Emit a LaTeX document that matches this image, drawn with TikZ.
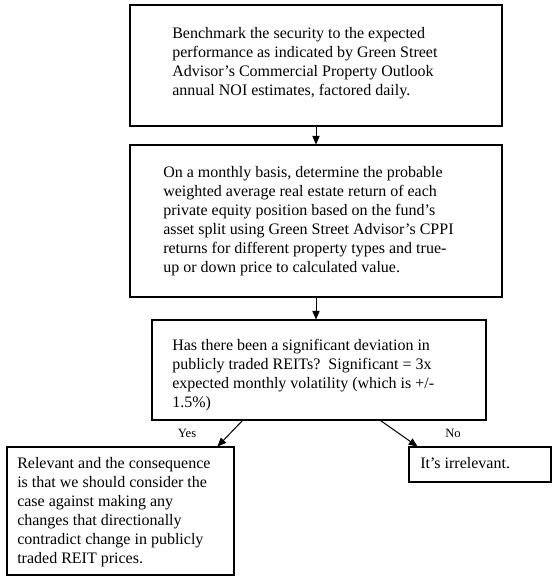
\documentclass[tikz,border=0pt]{standalone}
\usepackage{fontspec}
\setmainfont{Liberation Serif}
\usetikzlibrary{arrows.meta,calc}
\begin{document}
\begin{tikzpicture}[x=0.75pt,y=-0.75pt,
  box/.style={draw=black,line width=0.8pt,fill=white,inner sep=0pt},
  txt/.style={inner sep=0pt,align=left,anchor=base west,font=\fontsize{12}{14.25}\selectfont},
  lbl/.style={inner sep=1pt,fill=white,font=\fontsize{9.5}{11}\selectfont},
  arr/.style={line width=0.75pt,-{Triangle[length=6.5pt,width=5.5pt]}}]
\path[use as bounding box,fill=white] (0,0) rectangle (558,587);
% boxes
\node[box,minimum width=279pt,minimum height=90.75pt] (b1) at (316,65.5) {};
\node[box,minimum width=279pt,minimum height=114pt] (b2) at (316,221) {};
\node[box,minimum width=250.5pt,minimum height=75pt] (b3) at (319,370) {};
\node[box,minimum width=170.25pt,minimum height=96pt] (bl) at (120.5,511) {};
\node[box,minimum width=106.5pt,minimum height=26.25pt] (br) at (480,464.5) {};
% texts (anchored at the baseline of the last line)
\node[txt] (t1) at (172,95) {Benchmark the security to the expected\\performance as indicated by Green Street\\Advisor’s Commercial Property Outlook\\annual NOI estimates, factored daily.};
\node[txt] (t2) at (163,272) {On a monthly basis, determine the probable\\weighted average real estate return of each\\private equity position based on the fund’s\\asset split using Green Street Advisor’s CPPI\\returns for different property types and true-\\up or down price to calculated value.};
\node[txt] (t3) at (172,407) {Has there been a significant deviation in\\publicly traded REITs?\ \ Significant = 3x\\expected monthly volatility (which is +/-\\1.5\%)};
\node[txt] (tl) at (17,563) {Relevant and the consequence\\is that we should consider the\\case against making any\\changes that directionally\\contradict change in publicly\\traded REIT prices.};
\node[txt] (tr) at (420,468) {It’s irrelevant.};
% connectors
\draw[arr] (b1.south) -- (b2.north);
\draw[arr] (b2.south) -- (b2.south |- b3.north);
\coordinate (ys) at ($(b3.south west)+(91,0)$);
\coordinate (ye) at ($(bl.north east)+(-17,0)$);
\coordinate (ns) at ($(b3.south east)+(-106,0)$);
\coordinate (ne) at ($(br.north west)+(9,0)$);
\draw[arr] (ys) -- (ye);
\draw[arr] (ns) -- (ne);
\node[lbl] (yes) at (187,433) {Yes};
\node[lbl] (no) at (453,433) {No};
\end{tikzpicture}
\end{document}
